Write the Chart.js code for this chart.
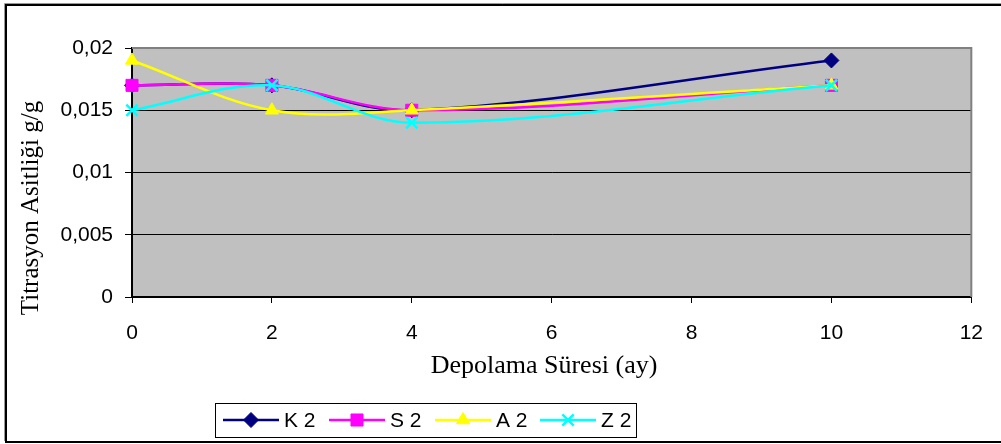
<!DOCTYPE html>
<html>
<head>
<meta charset="utf-8">
<script src="https://cdn.jsdelivr.net/npm/chart.js@4.4.1/dist/chart.umd.min.js"></script>
<style>
  html, body { margin: 0; padding: 0; background: #fff; }
  #chart { display: block; }
</style>
</head>
<body>
<canvas id="chart" width="1001" height="444"></canvas>
<script>
// Depolama süresi (ay)
const months = [0, 2, 4, 10];

// Titrasyon asitliği (g/g) per sample
const k2 = [0.017, 0.017, 0.015, 0.019];
const s2 = [0.017, 0.017, 0.015, 0.017];
const a2 = [0.019, 0.015, 0.015, 0.017];
const z2 = [0.015, 0.017, 0.014, 0.017];

const seriesNames = ['K 2', 'S 2', 'A 2', 'Z 2'];
const seriesColors = ['#000080', '#FF00FF', '#FFFF00', '#00FFFF'];
const seriesMarkers = ['rectRot', 'rect', 'triangle', 'crossRot'];
const markerSizes = [7.5, 8.5, 7.5, 8];

const xTicks = [0, 2, 4, 6, 8, 10, 12];
const yTicks = [0, 0.005, 0.01, 0.015, 0.02];
const yTickLabels = ['0', '0,005', '0,01', '0,015', '0,02'];

function toPoints(values) {
    return months.map((m, i) => ({ x: m, y: values[i] }));
}

function makeDataset(idx, values) {
    return {
        label: seriesNames[idx],
        data: toPoints(values),
        borderColor: seriesColors[idx],
        backgroundColor: seriesColors[idx],
        borderWidth: 2.5,
        tension: 0.35,
        clip: false,
        pointStyle: seriesMarkers[idx],
        pointRadius: markerSizes[idx],
        pointHoverRadius: markerSizes[idx],
        pointBorderColor: seriesColors[idx],
        pointBackgroundColor: seriesColors[idx],
        pointBorderWidth: idx === 3 ? 2.5 : 1,
        order: 4 - idx
    };
}

// gray plot area, frame, axis titles and the legend box
const chartDecor = {
    id: 'chartDecor',
    beforeDraw(chart) {
        const { ctx, chartArea: a } = chart;
        ctx.save();
        ctx.fillStyle = '#fff';
        ctx.fillRect(0, 0, chart.width, chart.height);
        ctx.fillStyle = '#C0C0C0';
        ctx.fillRect(a.left, a.top, a.right - a.left, a.bottom - a.top);
        ctx.restore();
    },
    beforeDatasetsDraw(chart) {
        const { ctx, chartArea: a } = chart;
        ctx.save();
        ctx.strokeStyle = '#808080';
        ctx.lineWidth = 2;
        ctx.beginPath();
        ctx.moveTo(a.left, a.top);
        ctx.lineTo(a.right, a.top);
        ctx.lineTo(a.right, a.bottom);
        ctx.stroke();
        ctx.restore();
    },
    afterDraw(chart) {
        const ctx = chart.ctx;
        ctx.save();

        // outer frame
        ctx.strokeStyle = '#999';
        ctx.lineWidth = 1;
        ctx.beginPath();
        ctx.moveTo(1001, 3.5);
        ctx.lineTo(4.5, 3.5);
        ctx.lineTo(4.5, 441);
        ctx.stroke();
        ctx.strokeStyle = '#000';
        ctx.lineWidth = 2;
        ctx.beginPath();
        ctx.moveTo(1001, 5);
        ctx.lineTo(6, 5);
        ctx.lineTo(6, 442);
        ctx.lineTo(1001, 442);
        ctx.stroke();

        // axis titles
        ctx.fillStyle = '#000';
        ctx.font = '26px "Liberation Serif", "Times New Roman", serif';
        ctx.textAlign = 'center';
        ctx.textBaseline = 'alphabetic';
        ctx.fillText('Depolama Süresi (ay)', 544, 373);

        ctx.save();
        ctx.translate(31, 208);
        ctx.rotate(-Math.PI / 2);
        ctx.font = '25px "Liberation Serif", "Times New Roman", serif';
        ctx.textBaseline = 'middle';
        ctx.fillText('Titrasyon Asitliği g/g', 0, 0);
        ctx.restore();

        // legend
        ctx.strokeStyle = '#000';
        ctx.lineWidth = 1;
        ctx.strokeRect(215.5, 403.5, 421, 34);
        const starts = [223, 329, 435, 540];
        const ly = 420;
        ctx.font = '21px "Liberation Sans", Arial, sans-serif';
        ctx.textAlign = 'left';
        ctx.textBaseline = 'middle';
        starts.forEach((sx, i) => {
            ctx.strokeStyle = seriesColors[i];
            ctx.lineWidth = 2.5;
            ctx.beginPath();
            ctx.moveTo(sx, ly);
            ctx.lineTo(sx + 56, ly);
            ctx.stroke();
            ctx.fillStyle = seriesColors[i];
            ctx.lineWidth = i === 3 ? 2.5 : 1;
            Chart.helpers.drawPoint(ctx, {
                pointStyle: seriesMarkers[i],
                radius: markerSizes[i],
                rotation: 0,
                borderWidth: i === 3 ? 2.5 : 1
            }, sx + 28, ly);
            ctx.fillStyle = '#000';
            ctx.fillText(seriesNames[i], sx + 61, ly + 1);
        });
        ctx.restore();
    }
};

const ctx = document.getElementById('chart').getContext('2d');
const lineChart = new Chart(ctx, {
    type: 'line',
    data: {
        datasets: [
            makeDataset(0, k2),
            makeDataset(1, s2),
            makeDataset(2, a2),
            makeDataset(3, z2)
        ]
    },
    options: {
        responsive: false,
        animation: false,
        layout: {
            padding: { left: 0, top: 48, right: 28, bottom: 0 }
        },
        scales: {
            x: {
                type: 'linear',
                min: 0,
                max: 12,
                afterFit(scale) { scale.height = 147; },
                afterBuildTicks(scale) { scale.ticks = xTicks.map(v => ({ value: v })); },
                grid: {
                    drawOnChartArea: false,
                    drawTicks: true,
                    tickLength: 6,
                    tickColor: '#000'
                },
                border: { color: '#000', width: 2 },
                ticks: {
                    color: '#000',
                    padding: 18,
                    maxRotation: 0,
                    font: { family: '"Liberation Sans", Arial, sans-serif', size: 21 }
                }
            },
            y: {
                min: 0,
                max: 0.02,
                afterFit(scale) { scale.width = 132; },
                afterBuildTicks(scale) { scale.ticks = yTicks.map(v => ({ value: v })); },
                grid: {
                    color: '#000',
                    lineWidth: 1,
                    drawTicks: true,
                    tickLength: 7,
                    tickColor: '#000'
                },
                border: { color: '#000', width: 2 },
                ticks: {
                    color: '#000',
                    padding: 12,
                    font: { family: '"Liberation Sans", Arial, sans-serif', size: 21 },
                    callback: function(value) {
                        const i = yTicks.indexOf(value);
                        return i >= 0 ? yTickLabels[i] : '';
                    }
                }
            }
        },
        plugins: {
            legend: { display: false },
            tooltip: { enabled: false }
        }
    },
    plugins: [chartDecor]
});
</script>
</body>
</html>
